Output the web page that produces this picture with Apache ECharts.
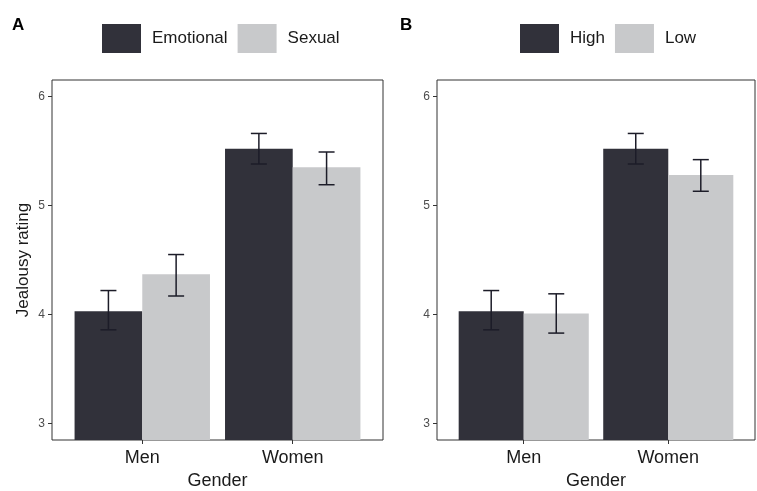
<!DOCTYPE html>
<html>
<head>
<meta charset="utf-8">
<script src="https://cdn.jsdelivr.net/npm/echarts@6/dist/echarts.min.js"></script>
<style>
  html, body { margin: 0; padding: 0; background: #fff; }
  #main { width: 757px; height: 491px; }
</style>
</head>
<body>
<div id="main"></div>
<script>
// categories on the x axis (same for both panels)
var genders = ['Men', 'Women'];
var yTicks = [3, 4, 5, 6];

// panel A: type of infidelity
var emotionalMean = [4.03, 5.52];
var emotionalLow = [3.86, 5.38];
var emotionalHigh = [4.22, 5.66];
var sexualMean = [4.37, 5.35];
var sexualLow = [4.17, 5.19];
var sexualHigh = [4.55, 5.49];

// panel B: level
var highMean = [4.03, 5.52];
var highLow = [3.86, 5.38];
var highHigh = [4.22, 5.66];
var lowMean = [4.01, 5.28];
var lowLow = [3.83, 5.13];
var lowHigh = [4.19, 5.42];

var DARK = '#31313a';
var LIGHT = '#c8c9cb';
var FONT = 'Liberation Sans, Arial, sans-serif';
var DODGE = 0.225; // half of bar width in category units

function makeData(mean, lo, hi) {
  return genders.map(function (g, i) {
    return [i + 1, mean[i], lo[i], hi[i]];
  });
}

function barSeries(name, color, offset, data, idx) {
  return {
    name: name,
    type: 'custom',
    xAxisIndex: idx,
    yAxisIndex: idx,
    clip: true,
    itemStyle: { color: color },
    encode: { x: 0, y: 1 },
    data: data,
    renderItem: function (params, api) {
      var cx = api.value(0) + offset;
      var p0 = api.coord([cx - DODGE, 0]);
      var p1 = api.coord([cx + DODGE, api.value(1)]);
      var top = api.coord([cx, api.value(3)]);
      var bot = api.coord([cx, api.value(2)]);
      var lineStyle = { stroke: '#1c1c28', lineWidth: 1.5 };
      return {
        type: 'group',
        children: [
          { type: 'rect', shape: { x: p0[0], y: p1[1], width: p1[0] - p0[0], height: p0[1] - p1[1] },
            style: { fill: color } },
          { type: 'line', shape: { x1: top[0], y1: top[1], x2: bot[0], y2: bot[1] }, style: lineStyle },
          { type: 'line', shape: { x1: top[0] - 8, y1: top[1], x2: top[0] + 8, y2: top[1] }, style: lineStyle },
          { type: 'line', shape: { x1: bot[0] - 8, y1: bot[1], x2: bot[0] + 8, y2: bot[1] }, style: lineStyle }
        ]
      };
    }
  };
}

function xAxis(idx) {
  return {
    type: 'value', gridIndex: idx, min: 0.4, max: 2.6,
    name: 'Gender', nameLocation: 'middle', nameGap: 32,
    nameTextStyle: { fontFamily: FONT, fontSize: 18, color: '#1a1a1a' },
    axisLine: { show: false },
    splitLine: { show: false },
    axisTick: { show: true, customValues: [1, 2], length: 4, inside: false, lineStyle: { color: '#333' } },
    axisLabel: {
      customValues: [1, 2], margin: 9, fontFamily: FONT, fontSize: 18, color: '#1a1a1a',
      formatter: function (v) { return genders[Math.round(v) - 1]; }
    }
  };
}

function yAxis(idx, withName) {
  return {
    type: 'value', gridIndex: idx, min: 2.85, max: 6.15,
    name: withName ? 'Jealousy rating' : '',
    nameLocation: 'middle', nameGap: 20, nameRotate: 90,
    nameTextStyle: { fontFamily: FONT, fontSize: 17, color: '#1a1a1a' },
    axisLine: { show: false },
    splitLine: { show: false },
    axisTick: { show: true, customValues: yTicks, length: 4, lineStyle: { color: '#333' } },
    axisLabel: { customValues: yTicks, margin: 7, fontFamily: FONT, fontSize: 12, color: '#4d4d4d' }
  };
}

function legend(left, names) {
  return {
    left: left, top: 24, padding: 0, itemGap: 10,
    icon: 'rect', itemWidth: 39, itemHeight: 29,
    data: names, selectedMode: false,
    textStyle: { fontFamily: FONT, fontSize: 17, color: '#1a1a1a', padding: [0, 0, 0, 6] }
  };
}

var chart = echarts.init(document.getElementById('main'));
chart.setOption({
  animation: false,
  backgroundColor: '#fff',
  title: [
    { text: 'A', left: 12, top: 17, padding: 0, textStyle: { fontFamily: FONT, fontSize: 17, fontWeight: 'bold', color: '#000' } },
    { text: 'B', left: 400, top: 17, padding: 0, textStyle: { fontFamily: FONT, fontSize: 17, fontWeight: 'bold', color: '#000' } }
  ],
  legend: [
    legend(102, ['Emotional', 'Sexual']),
    legend(520, ['High', 'Low'])
  ],
  grid: [
    { left: 52, top: 80, width: 331, height: 360, outerBoundsMode: 'none', containLabel: false,
      show: true, borderColor: '#333', borderWidth: 1, backgroundColor: '#fff' },
    { left: 437, top: 80, width: 318, height: 360, outerBoundsMode: 'none', containLabel: false,
      show: true, borderColor: '#333', borderWidth: 1, backgroundColor: '#fff' }
  ],
  xAxis: [xAxis(0), xAxis(1)],
  yAxis: [yAxis(0, true), yAxis(1, false)],
  series: [
    barSeries('Emotional', DARK, -DODGE, makeData(emotionalMean, emotionalLow, emotionalHigh), 0),
    barSeries('Sexual', LIGHT, DODGE, makeData(sexualMean, sexualLow, sexualHigh), 0),
    barSeries('High', DARK, -DODGE, makeData(highMean, highLow, highHigh), 1),
    barSeries('Low', LIGHT, DODGE, makeData(lowMean, lowLow, lowHigh), 1)
  ]
});
</script>
</body>
</html>
